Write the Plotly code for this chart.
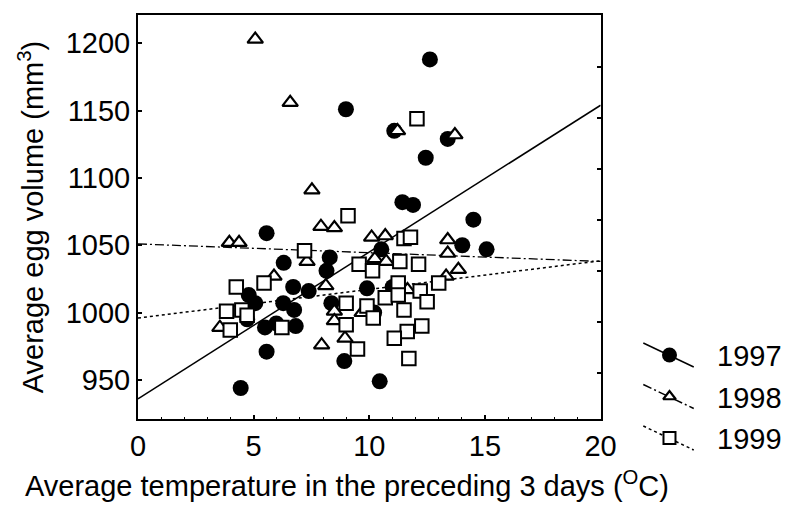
import plotly.graph_objects as go

# ---------------- data ----------------
t97 = [12.62, 8.99, 11.08, 13.39, 12.44, 11.43, 11.89, 14.5, 5.56, 14.02, 15.07, 10.52,
       8.29, 6.30, 8.15, 6.71, 7.38, 9.9, 11.01, 4.79, 5.07, 6.28, 8.36, 6.75, 10.21,
       4.72, 5.49, 6.82, 5.98, 5.56, 8.92, 4.44, 10.45]
v97 = [1188, 1151, 1135, 1129, 1115, 1082, 1080, 1069, 1059, 1050, 1047, 1047,
       1041, 1037, 1031, 1019, 1016, 1018, 1019, 1013, 1007, 1007, 1007, 1002, 1000,
       995, 989, 990, 992, 971, 964, 944, 949]

t98 = [5.07, 6.58, 7.52, 11.22, 13.7, 3.95, 4.37, 7.91, 8.49, 10.1, 10.69, 7.31, 5.88,
       8.12, 8.49, 8.49, 3.54, 7.94, 8.95, 9.69, 10.24, 10.73, 11.65, 13.39, 13.39,
       13.85, 13.32]
v98 = [1203, 1156, 1091, 1135, 1132, 1052, 1052, 1064, 1063, 1056, 1057, 1038, 1027,
       1020, 1001, 994, 989, 976, 981, 1000, 1040, 1038, 1017, 1054, 1044,
       1032, 1027]

t99 = [12.06, 9.08, 7.2, 9.56, 10.14, 4.25, 5.45, 3.83, 4.49, 4.72, 3.99, 6.22, 9.0,
       9.0, 9.49, 11.5, 11.78, 11.32, 12.13, 11.25, 10.69, 11.25, 12.2, 11.5, 9.9,
       10.17, 12.27, 11.64, 11.08, 11.71, 12.5, 13.0]
v99 = [1144, 1072, 1046, 1036, 1031, 1019, 1022, 1001, 1002, 998, 987, 989, 1007,
       991, 973, 1055, 1056, 1038, 1036, 1022, 1011, 1013, 1016, 1002, 1005,
       996, 990, 986, 981, 966, 1008, 1022]

fit_t = [0, 20]
fit97 = [936, 1154]
fit98 = [1051, 1038]
fit99 = [996, 1038.5]

years = ["1997", "1998", "1999"]
x_ticks = [0, 5, 10, 15, 20]
y_ticks = [950, 1000, 1050, 1100, 1150, 1200]

FONT = "Liberation Sans, Arial, sans-serif"
FS = 29

# ---------------- styles ----------------
line_styles = [dict(color="black", width=1.5, dash="solid"),
               dict(color="black", width=1.3, dash="9px,3px,2px,3px"),
               dict(color="black", width=1.5, dash="3px,3px")]
marker_styles = [dict(symbol="circle", size=16, color="black", line=dict(width=0)),
                 dict(symbol="triangle-up", size=13.5, color="white", line=dict(color="black", width=2.2)),
                 dict(symbol="square", size=13.5, color="white", line=dict(color="black", width=2))]
legend_marker_sizes = [15, 11, 12]

fig = go.Figure()

# regression lines
for fy, ls in zip([fit97, fit98, fit99], line_styles):
    fig.add_trace(go.Scatter(x=fit_t, y=fy, mode="lines", line=ls,
                             showlegend=False, hoverinfo="skip"))

# points (circles, then triangles, then squares on top)
for xs, ys, ms in zip([t97, t98, t99], [v97, v98, v99], marker_styles):
    fig.add_trace(go.Scatter(x=xs, y=ys, mode="markers", marker=ms,
                             showlegend=False, cliponaxis=False, hoverinfo="skip"))

# right-hand frame ticks (independent scale)
fig.add_trace(go.Scatter(x=[None], y=[None], yaxis="y2", showlegend=False, hoverinfo="skip"))

W, H = 798, 514
x0, x1, y0, y1 = 134, 611, 15, 419

annotations = [
    dict(text="Average temperature in the preceding 3 days (<sup>O</sup>C)",
         xref="paper", yref="paper", x=350 / W, y=1 - 484 / H,
         xanchor="center", yanchor="middle", showarrow=False,
         font=dict(family=FONT, size=FS, color="black")),
    dict(text="Average egg volume (mm<sup>3</sup>)",
         xref="paper", yref="paper", x=24 / W, y=1 - 217 / H, textangle=-90,
         xanchor="center", yanchor="middle", showarrow=False,
         font=dict(family=FONT, size=FS, color="black")),
]

# custom legend drawn on a pixel-space axis pair (x3/y3) covering the figure
for i, (yr, ls, ms, lms) in enumerate(zip(years, line_styles, marker_styles, legend_marker_sizes)):
    cy = 355 + 41.5 * i
    fig.add_trace(go.Scatter(x=[655, 707], y=[cy - 12, cy + 12], mode="lines",
                             line=dict(color="black", width=1.5, dash=ls["dash"]),
                             xaxis="x3", yaxis="y3", showlegend=False, hoverinfo="skip"))
    m = dict(ms)
    m["size"] = lms
    fig.add_trace(go.Scatter(x=[682], y=[cy], mode="markers", marker=m,
                             xaxis="x3", yaxis="y3", showlegend=False, hoverinfo="skip"))
    annotations.append(dict(text=yr, xref="x3", yref="y3", x=729, y=cy + 1,
                            xanchor="left", yanchor="middle", showarrow=False,
                            font=dict(family=FONT, size=FS, color="black")))

fig.update_layout(
    width=W, height=H,
    margin=dict(l=0, r=0, t=0, b=0),
    paper_bgcolor="white", plot_bgcolor="rgba(0,0,0,0)",
    font=dict(family=FONT, size=FS, color="black"),
    xaxis=dict(domain=[x0 / W, x1 / W], range=[0, 20], tickvals=x_ticks, anchor="y",
               ticks="inside", ticklen=4, tickwidth=1.5, tickcolor="black",
               minor=dict(dtick=1, ticks="inside", ticklen=2.5, tickwidth=1, tickcolor="black"),
               showline=True, linecolor="black", linewidth=2, mirror=True,
               showgrid=False, zeroline=False, tickfont=dict(size=FS)),
    yaxis=dict(domain=[1 - y1 / H, 1 - y0 / H], range=[921, 1221], tickvals=y_ticks, anchor="x",
               ticks="inside", ticklen=4, tickwidth=1.5, tickcolor="black",
               showline=True, linecolor="black", linewidth=2, mirror=True,
               showgrid=False, zeroline=False, tickfont=dict(size=FS)),
    yaxis2=dict(overlaying="y", side="right", anchor="x", range=[0, 404], tick0=46, dtick=51,
                ticks="inside", ticklen=4, tickwidth=1.5, tickcolor="black",
                showticklabels=False, showgrid=False, zeroline=False, showline=False),
    xaxis3=dict(domain=[0, 1], range=[0, W], visible=False, anchor="y3"),
    yaxis3=dict(domain=[0, 1], range=[H, 0], visible=False, anchor="x3"),
    annotations=annotations,
)

fig.write_html("out.html")
